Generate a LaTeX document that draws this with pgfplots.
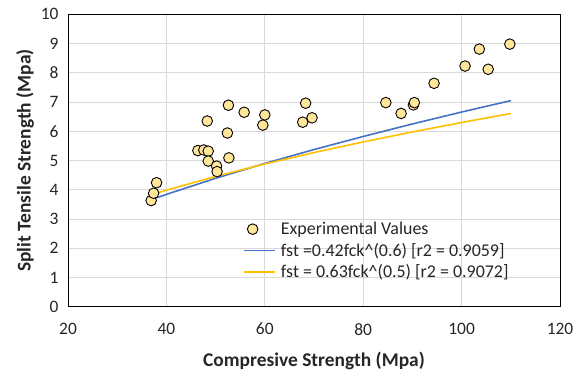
\documentclass[border=0pt]{standalone}
\usepackage{pgfplots}
\pgfplotsset{compat=1.18}
\usepackage{fontspec}
\setmainfont{Carlito}
\definecolor{gridgray}{HTML}{D9D9D9}
\definecolor{ptfill}{HTML}{FFE699}
\definecolor{fitblue}{HTML}{4472C4}
\definecolor{fityellow}{HTML}{FFC000}
\definecolor{txt}{HTML}{262626}

\pgfplotstableread{
fck fst
36.9 3.63
37.4 3.88
38.0 4.24
46.4 5.34
47.6 5.36
48.5 5.32
48.3 6.35
48.5 4.98
50.2 4.81
50.3 4.62
52.4 5.94
52.7 5.09
52.6 6.89
55.8 6.65
59.6 6.21
60.0 6.56
67.7 6.31
68.3 6.96
69.6 6.46
84.6 6.98
87.7 6.61
90.2 6.90
90.4 6.98
94.4 7.64
100.7 8.23
103.6 8.81
105.4 8.12
109.8 8.98
}\expdata

\pgfplotstableread{
fck fst
37 3.667
40 3.841
50 4.392
60 4.899
70 5.375
80 5.822
90 6.250
100 6.657
110 7.048
}\fitA

\pgfplotstableread{
fck fst
37 3.832
40 3.984
50 4.455
60 4.880
70 5.271
80 5.635
90 5.977
100 6.300
110 6.607
}\fitB

\begin{document}
\begin{tikzpicture}[x=1bp,y=1bp]
\useasboundingbox (0,0) rectangle (577,376);
\begin{axis}[
  at={(68bp,69.3bp)}, anchor=south west,
  scale only axis,
  width=492bp, height=292.4bp,
  xmin=20, xmax=120, ymin=0, ymax=10,
  xtick={20,40,...,120}, ytick={0,1,...,10},
  grid=major,
  major grid style={gridgray, line width=0.9pt},
  axis line style={black, line width=1pt},
  tick style={draw=none},
  ticklabel style={font=\fontsize{17.5}{20}\selectfont\color{txt}},
  /pgf/number format/assume math mode=true,
  xticklabel style={yshift=-13bp},
  yticklabel style={xshift=-6bp},
  xlabel={\textbf{Compresive Strength (Mpa)}},
  ylabel={\textbf{Split Tensile Strength (Mpa)}},
  label style={font=\fontsize{19.5}{22}\selectfont\color{txt}},
  xlabel style={yshift=-10bp},
  ylabel style={yshift=0bp},
  legend style={at={(0.354,0.30)}, anchor=north west, draw=none, fill=none,
    font=\fontsize{18}{20}\selectfont\color{txt},
    row sep=3bp, inner sep=1bp,
    nodes={inner xsep=5bp}},
  legend cell align=left,
  clip=false,
]
\addplot[only marks, mark=*, mark size=5.3bp,
  mark options={fill=ptfill, draw=black, line width=0.9pt}]
  table[x=fck, y=fst] {\expdata};
\addlegendentry{Experimental Values}
\addplot[draw=fitblue, line width=1.6pt, no marks,
  legend image code/.code={\draw[fitblue, line width=1.6pt] (0bp,0bp) -- (31bp,0bp);}]
  table[x=fck, y=fst] {\fitA};
\addlegendentry{fst =0.42fck\^{}(0.6) [r2 = 0.9059]}
\addplot[draw=fityellow, line width=1.6pt, no marks,
  legend image code/.code={\draw[fityellow, line width=1.6pt] (0bp,0bp) -- (31bp,0bp);}]
  table[x=fck, y=fst] {\fitB};
\addlegendentry{fst = 0.63fck\^{}(0.5) [r2 = 0.9072]}
\end{axis}
\end{tikzpicture}
\end{document}
